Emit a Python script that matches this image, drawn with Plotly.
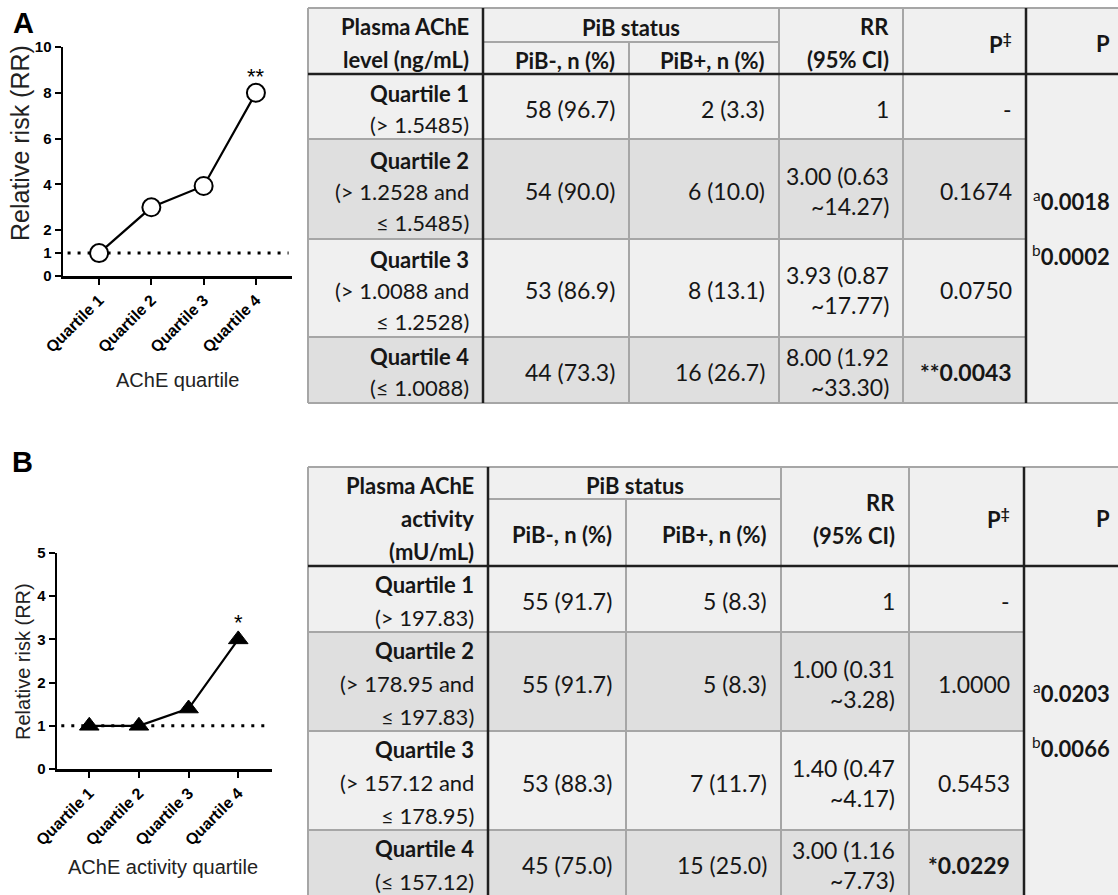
import plotly.graph_objects as go

# ---------------- data ----------------
quartiles = ["Quartile 1", "Quartile 2", "Quartile 3", "Quartile 4"]
ref_rr = 1

# Panel A: plasma AChE level (ng/mL)
a_header = ["Plasma AChE", "level (ng/mL)"]
a_ranges = ["(> 1.5485)", "(> 1.2528 and\n≤ 1.5485)", "(> 1.0088 and\n≤ 1.2528)", "(≤ 1.0088)"]
a_pib_neg = ["58 (96.7)", "54 (90.0)", "53 (86.9)", "44 (73.3)"]
a_pib_pos = ["2 (3.3)", "6 (10.0)", "8 (13.1)", "16 (26.7)"]
a_rr = [1.00, 3.00, 3.93, 8.00]
a_ci_low = [None, 0.63, 0.87, 1.92]
a_ci_high = [None, 14.27, 17.77, 33.30]
a_p = ["-", "0.1674", "0.0750", "0.0043"]
a_sig = ["", "", "", "**"]
a_p_trend = [("a", "0.0018"), ("b", "0.0002")]
a_xtitle = "AChE quartile"
a_yticks = [0, 1, 2, 4, 6, 8, 10]

# Panel B: plasma AChE activity (mU/mL)
b_header = ["Plasma AChE", "activity", "(mU/mL)"]
b_ranges = ["(> 197.83)", "(> 178.95 and\n≤ 197.83)", "(> 157.12 and\n≤ 178.95)", "(≤ 157.12)"]
b_pib_neg = ["55 (91.7)", "55 (91.7)", "53 (88.3)", "45 (75.0)"]
b_pib_pos = ["5 (8.3)", "5 (8.3)", "7 (11.7)", "15 (25.0)"]
b_rr = [1.00, 1.00, 1.40, 3.00]
b_ci_low = [None, 0.31, 0.47, 1.16]
b_ci_high = [None, 3.28, 4.17, 7.73]
b_p = ["-", "1.0000", "0.5453", "0.0229"]
b_sig = ["", "", "", "*"]
b_p_trend = [("a", "0.0203"), ("b", "0.0066")]
b_xtitle = "AChE activity quartile"
b_yticks = [0, 1, 2, 3, 4, 5]

col_headers = ["PiB status", "PiB-, n (%)", "PiB+, n (%)", "RR", "(95% CI)", "P<sup>‡</sup>", "P"]

# ---------------- layout constants ----------------
W, H = 1118, 895
TABLE_FONT = "Lato, 'Open Sans', sans-serif"
CHART_FONT = "'Liberation Sans', Arial, sans-serif"
LIGHT, DARK = "#f0f0f0", "#dfdfdf"
GRID, BOLD_LINE = "#a6a6a6", "#1f1f1f"
TXT = "#161616"
FS = 22      # table label size
FSN = 23     # table number size

geo_a = dict(x=[308, 483, 629, 779, 903, 1026, 1125], top=8, sub=42, head=74,
             rows=[74, 139, 239, 337, 403], ls=31)
geo_b = dict(x=[308, 488, 626, 781, 909, 1024, 1125], top=467, sub=499, head=566,
             rows=[566, 632, 731, 830, 896], ls=33)

fig = go.Figure()

# ---------------- charts ----------------
xpos = list(range(1, len(quartiles) + 1))
fig.add_trace(go.Scatter(
    x=xpos, y=a_rr, mode="lines+markers", xaxis="x", yaxis="y",
    line=dict(color="black", width=2.2),
    marker=dict(symbol="circle", size=18, color="white", line=dict(color="black", width=2)),
    cliponaxis=False, showlegend=False, hoverinfo="skip"))
fig.add_trace(go.Scatter(
    x=xpos, y=b_rr, mode="lines+markers", xaxis="x2", yaxis="y2",
    line=dict(color="black", width=2.2),
    marker=dict(symbol="triangle-up", size=17, color="black", line=dict(color="black", width=1)),
    cliponaxis=False, showlegend=False, hoverinfo="skip"))
# invisible trace for table canvas axis
fig.add_trace(go.Scatter(x=[0], y=[0], xaxis="x3", yaxis="y3", mode="markers",
                         marker=dict(size=1, opacity=0), showlegend=False, hoverinfo="skip"))

axis_common = dict(showline=True, linecolor="black", linewidth=2.5, ticks="outside",
                   ticklen=6, tickwidth=2, tickcolor="black", showgrid=False,
                   zeroline=False, fixedrange=True, automargin=False)
xt_font = dict(family=CHART_FONT, size=16, color="black", weight="bold")
yt_font = dict(family=CHART_FONT, size=15, color="black", weight="bold")

fig.update_layout(
    xaxis=dict(**axis_common, domain=[63 / W, 292 / W], range=[0.31, 4.69], anchor="y",
               tickvals=xpos, ticktext=quartiles, tickangle=-45, tickfont=xt_font),
    yaxis=dict(**axis_common, domain=[1 - 276 / H, 1 - 47 / H], range=[0, 10], anchor="x",
               tickvals=a_yticks, ticktext=[str(v) for v in a_yticks], tickfont=yt_font),
    xaxis2=dict(**axis_common, domain=[57 / W, 272 / W], range=[0.35, 4.68], anchor="y2",
                tickvals=xpos, ticktext=quartiles, tickangle=-45, tickfont=xt_font),
    yaxis2=dict(**axis_common, domain=[1 - 769 / H, 1 - 553 / H], range=[0, 5], anchor="x2",
                tickvals=b_yticks, ticktext=[str(v) for v in b_yticks], tickfont=yt_font),
    xaxis3=dict(domain=[0, 1], range=[0, W], visible=False, fixedrange=True, anchor="y3",
                automargin=False),
    yaxis3=dict(domain=[0, 1], range=[H, 0], visible=False, fixedrange=True, anchor="x3",
                automargin=False),
)

# reference lines at RR = 1
for xr, yr in (("x", "y"), ("x2", "y2")):
    fig.add_shape(type="line", xref=f"{xr} domain", yref=yr, x0=0.02, x1=0.985,
                  y0=ref_rr, y1=ref_rr, layer="below",
                  line=dict(color="black", width=3, dash="3px,7px"))

# significance stars
for xr, yr, vals, sig in (("x", "y", a_rr, a_sig), ("x2", "y2", b_rr, b_sig)):
    for xi, v, s in zip(xpos, vals, sig):
        if s:
            fig.add_annotation(x=xi, y=v, xref=xr, yref=yr, text=s, showarrow=False,
                               yanchor="bottom", yshift=2,
                               font=dict(family=CHART_FONT, size=22, color="black"))


def txt(x, y, s, anchor="right", size=FS, bold=False, family=TABLE_FONT, angle=0, color=TXT):
    if bold:
        s = f"<b>{s}</b>"
    fig.add_annotation(x=x, y=y, xref="x3", yref="y3", text=s, showarrow=False,
                       xanchor=anchor, yanchor="middle", textangle=angle,
                       font=dict(family=family, size=size, color=color))


# chart titles / panel letters
txt(23, 23, "A", anchor="center", size=29, bold=True, family=CHART_FONT, color="black")
txt(20, 143, "Relative risk (RR)", anchor="center", size=25, family=CHART_FONT, angle=-90, color="#222")
txt(177, 380, a_xtitle, anchor="center", size=20, family=CHART_FONT, color="#222")
txt(22, 462, "B", anchor="center", size=29, bold=True, family=CHART_FONT, color="black")
txt(23, 662, "Relative risk (RR)", anchor="center", size=20, family=CHART_FONT, angle=-90, color="#222")
txt(163, 867, b_xtitle, anchor="center", size=20, family=CHART_FONT, color="#222")


def rect(x0, y0, x1, y1, color):
    fig.add_shape(type="rect", xref="x3", yref="y3", x0=x0, y0=y0, x1=x1, y1=y1,
                  fillcolor=color, line=dict(width=0), layer="below")


def seg(x0, y0, x1, y1, color=GRID, width=2):
    fig.add_shape(type="line", xref="x3", yref="y3", x0=x0, y0=y0, x1=x1, y1=y1,
                  line=dict(color=color, width=width), layer="below")


def lines_at(xc, yc, lines, spacing, anchor="right", bold_first=False, bold=False, size=FS):
    n = len(lines)
    for k, s in enumerate(lines):
        y = yc + (k - (n - 1) / 2) * spacing
        txt(xc, y, s, anchor=anchor, bold=bold or (bold_first and k == 0), size=size)


def draw_table(g, header, ranges, neg, pos, rr, lo, hi, p, sig, trend):
    X, top, sub, head, R, ls = g["x"], g["top"], g["sub"], g["head"], g["rows"], g["ls"]
    off = 2
    # fills
    rect(X[0], top, X[6], head, LIGHT)
    for i in range(4):
        rect(X[0], R[i], X[5], R[i + 1], DARK if i % 2 else LIGHT)
    rect(X[5], head, X[6], R[4], LIGHT)
    # grey grid
    seg(X[0], top, X[6], top)
    seg(X[1], sub, X[3], sub)
    seg(X[0], top, X[0], R[4])
    seg(X[2], sub, X[2], R[4])
    seg(X[3], top, X[3], R[4])
    seg(X[4], top, X[4], R[4])
    for r in R[1:4]:
        seg(X[0], r, X[5], r)
    seg(X[0], R[4], X[6], R[4])
    # dark rules
    seg(X[0], head, X[6], head, BOLD_LINE, 2.5)
    seg(X[1], top, X[1], R[4], BOLD_LINE, 2.5)
    seg(X[5], top, X[5], R[4], BOLD_LINE, 2.5)

    pad = 12
    hc = (top + head) / 2 + off
    hs = 33
    lines_at(X[1] - pad, hc, header, hs, bold=True)
    txt((X[1] + X[3]) / 2, (top + sub) / 2 + off, col_headers[0], anchor="center", bold=True)
    txt(X[2] - pad, (sub + head) / 2 + off, col_headers[1], bold=True)
    txt(X[3] - pad, (sub + head) / 2 + off, col_headers[2], bold=True)
    lines_at(X[4] - pad, hc, col_headers[3:5], hs, bold=True)
    txt(X[5] - pad, hc, col_headers[5], bold=True)
    txt(1112, hc, col_headers[6], bold=True)

    for i in range(4):
        c = (R[i] + R[i + 1]) / 2 + off
        lines_at(X[1] - pad, c, [quartiles[i]] + ranges[i].split("\n"), ls, bold_first=True)
        txt(X[2] - pad, c, neg[i], size=FSN)
        txt(X[3] - pad, c, pos[i], size=FSN)
        if lo[i] is None:
            rr_lines = [f"{rr[i]:g}"]
        else:
            rr_lines = [f"{rr[i]:.2f} ({lo[i]:.2f}", f"~{hi[i]:.2f})"]
        lines_at(X[4] - pad, c, rr_lines, 30, size=FSN)
        if sig[i]:
            txt(X[5] - pad, c, sig[i] + p[i], bold=True, size=FSN)
        else:
            txt(X[5] - pad, c, p[i], size=FSN)
    tc = (head + R[4]) / 2 - 13 + off
    for k, (sup, val) in enumerate(trend):
        txt(1112, tc + (k - 0.5) * 55, f"<sup>{sup}</sup><b>{val}</b>")


draw_table(geo_a, a_header, a_ranges, a_pib_neg, a_pib_pos, a_rr, a_ci_low, a_ci_high,
           a_p, a_sig, a_p_trend)
draw_table(geo_b, b_header, b_ranges, b_pib_neg, b_pib_pos, b_rr, b_ci_low, b_ci_high,
           b_p, b_sig, b_p_trend)

fig.update_layout(width=W, height=H,
                  margin=dict(l=0, r=0, t=0, b=0, pad=0, autoexpand=False),
                  paper_bgcolor="white", plot_bgcolor="rgba(0,0,0,0)",
                  showlegend=False, font=dict(family=CHART_FONT, color="black"))

fig.write_html("out.html", config={"displayModeBar": False, "staticPlot": True},
               post_script="document.body.style.margin='0px';document.body.style.overflow='hidden';")
